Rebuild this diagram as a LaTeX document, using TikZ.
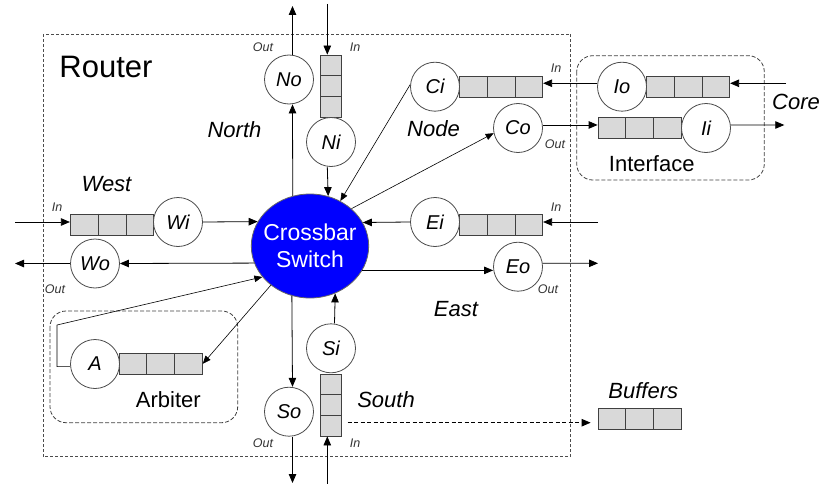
\documentclass[tikz,border=0pt]{standalone}
\usepackage{fontspec}
\setmainfont{Liberation Sans}
\usetikzlibrary{arrows.meta,shapes.geometric,calc}

\tikzset{
 port/.style={circle, draw=black!70, line width=0.8pt, minimum size=49pt, inner sep=0pt, fill=white, font=\fontsize{20}{24}\selectfont\itshape},
 hbufbox/.style={rectangle, draw=black!75, line width=0.8pt, fill=black!15, minimum width=83.4pt, minimum height=21pt, inner sep=0pt},
 vbufbox/.style={rectangle, draw=black!75, line width=0.8pt, fill=black!15, minimum width=20.7pt, minimum height=62pt, inner sep=0pt},
 bufline/.style={draw=black!75, line width=0.8pt},
 arr/.style={-{Triangle[length=9pt,width=7.5pt]}, line width=0.8pt},
 thinarr/.style={-{Triangle[length=8pt,width=6.5pt]}, line width=0.6pt},
 lbl/.style={font=\fontsize{22}{26}\selectfont\itshape},
 plainlbl/.style={font=\fontsize{22}{26}\selectfont},
 iolbl/.style={font=\fontsize{12.5}{14}\selectfont\itshape, text=black!80},
 routerbox/.style={draw=black!70, dash pattern=on 3pt off 2pt, line width=0.8pt},
 groupbox/.style={draw=black!75, dash pattern=on 4pt off 2pt, line width=0.8pt, rounded corners=16pt},
 xbar/.style={ellipse, fill=blue, draw=black!60, line width=0.8pt, minimum width=117.4pt, minimum height=104pt, inner sep=0pt},
 dasharr/.style={-{Triangle[length=9pt,width=7.5pt]}, line width=0.8pt, dash pattern=on 4pt off 2.5pt},
}

\newcommand{\hbuf}[3]{%
  \node[hbufbox] (#1) at (#2,#3) {};
  \draw[bufline] ($(#1.north west)!1/3!(#1.north east)$) -- ($(#1.south west)!1/3!(#1.south east)$)
                 ($(#1.north west)!2/3!(#1.north east)$) -- ($(#1.south west)!2/3!(#1.south east)$);
}
\newcommand{\vbuf}[3]{%
  \node[vbufbox] (#1) at (#2,#3) {};
  \draw[bufline] ($(#1.north west)!1/3!(#1.south west)$) -- ($(#1.north east)!1/3!(#1.south east)$)
                 ($(#1.north west)!2/3!(#1.south west)$) -- ($(#1.north east)!2/3!(#1.south east)$);
}

\begin{document}
\begin{tikzpicture}[x=1pt,y=-1pt]
\useasboundingbox (0,0) rectangle (821,484);

% group boxes
\draw[routerbox] (43,34) rectangle (570.7,456.7);
\draw[groupbox] (576.7,55.7) rectangle (764.3,180);
\draw[groupbox] (50,311) rectangle (237.7,422.7);

% crossbar
\node[xbar] (X) at (310,246) {};
\node[align=center, text=white, font=\fontsize{23}{26.5}\selectfont] (xtext) at (X) {Crossbar\\Switch};

% buffers
\vbuf{NiB}{331}{86}
\vbuf{SoB}{331}{405}
\hbuf{WB}{112}{224.5}
\hbuf{CB}{501}{86.7}
\hbuf{EB}{501}{224.8}
\hbuf{IoB}{688}{86.7}
\hbuf{IiB}{639.7}{128}
\hbuf{AB}{160.7}{363.8}
\hbuf{LB}{639.7}{418.8}

% ports
\node[port] (No) at (289,79.5) {No};
\node[port] (Ni) at (331,142) {Ni};
\node[port] (Wi) at (178,222) {Wi};
\node[port] (Wo) at (95,263.5) {Wo};
\node[port] (A) at (95,364) {A};
\node[port] (So) at (289,411.7) {So};
\node[port] (Si) at (331,348.3) {Si};
\node[port] (Eo) at (518,266.7) {Eo};
\node[port] (Ei) at (435,222) {Ei};
\node[port] (Ci) at (435,86.7) {Ci};
\node[port] (Co) at (518,128) {Co};
\node[port] (Io) at (622,86.7) {Io};
\node[port] (Ii) at (706,128) {Ii};

% labels
\node[font=\fontsize{31}{36}\selectfont] (router) at (106,67) {Router};
\node[lbl] (north) at (234.5,130) {North};
\node[lbl] (west) at (106.5,184) {West};
\node[lbl] (node) at (433.5,128.3) {Node};
\node[lbl] (east) at (456,309.3) {East};
\node[lbl] (south) at (386,399.3) {South};
\node[lbl] (buffers) at (643.3,390.7) {Buffers};
\node[lbl] (core) at (796,101.7) {Core};
\node[plainlbl] (interface) at (651.7,163.3) {Interface};
\node[plainlbl] (arbiter) at (168.3,399.3) {Arbiter};

\node[iolbl] (l1) at (263,47) {Out};
\node[iolbl] (l2) at (355,47) {In};
\node[iolbl] (l3) at (57,207) {In};
\node[iolbl] (l4) at (55,289) {Out};
\node[iolbl] (l5) at (556,68.3) {In};
\node[iolbl] (l6) at (555,144) {Out};
\node[iolbl] (l7) at (556,206.7) {In};
\node[iolbl] (l8) at (548,289) {Out};
\node[iolbl] (l9) at (263,443) {Out};
\node[iolbl] (l10) at (355,443) {In};

% free ends
\coordinate (nout) at (292.5,6);
\coordinate (nin) at (327.3,4);
\coordinate (sout) at (292.5,483);
\coordinate (sin) at (327.3,484);
\coordinate (win) at (15,222);
\coordinate (wout) at (15,263.5);
\coordinate (ein) at (598,222);
\coordinate (eout) at (598,263.3);
\coordinate (corein) at (786,83.3);
\coordinate (iout) at (784.3,125);
\coordinate (acorner) at (57,325);
\coordinate (dstart) at (347.7,422.7);

% north
\draw[arr] ([xshift=3.5pt]No.north) -- (nout);
\draw[arr] (X.109.4) -- ([xshift=3.5pt]No.south);
\draw[arr] (nin) -- ([xshift=-3.7pt]NiB.north);
\draw[arr] ([xshift=-3.7pt]Ni.south) -- (X.70.8);
% south
\draw[arr] (X.250.6) -- ([xshift=3.5pt]So.north);
\draw[arr] ([xshift=3.5pt]So.south) -- (sout);
\draw[arr] ([xshift=3.5pt]Si.north) -- (X.-62.6);
\draw[arr] (sin) -- ([xshift=-3.7pt]SoB.south);
% west
\draw[arr] (win) -- (WB.west |- win);
\draw[arr] (Wi.east) -- (X.155.25);
\draw[arr] (X.197.6) -- (Wo.east);
\draw[arr] (Wo.west) -- (wout);
% east
\draw[arr] (ein) -- (EB.east |- ein);
\draw[arr] (Ei.west) -- (X.24.75);
\draw[arr] (X.-25.55) -- (Eo.west |- X.-25.55);
\draw[arr] (Eo.8) -- (eout);
% node / interface
\draw[arr] (corein) -- (IoB.east |- corein);
\draw[arr] (Io.172) -- (CB.east |- Io.172);
\draw[thinarr] (Ci.175) -- (X.56);
\draw[thinarr] (X.42) -- (Co.192);
\draw[arr] (Co.7) -- (IiB.west |- Co.7);
\draw[arr] (Ii.7) -- (iout);
% arbiter
\draw[thinarr] (A.186) -| (acorner) -- (X.213.8);
\draw[thinarr] (X.225.5) -- (AB.east);
% buffers legend
\draw[dasharr] (dstart) -- ([xshift=-7pt]LB.west |- dstart);
\end{tikzpicture}
\end{document}
